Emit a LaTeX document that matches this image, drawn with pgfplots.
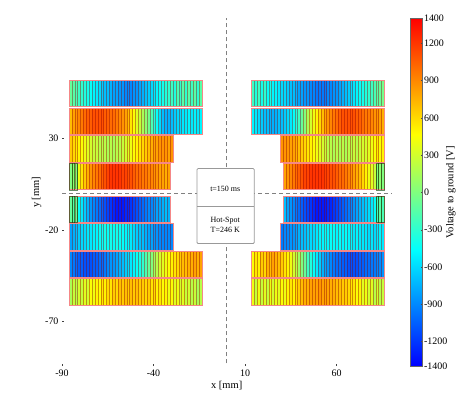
\documentclass[border=0pt]{standalone}
\usepackage{pgfplots}
\pgfplotsset{compat=1.18}
\usepackage{pgfplotstable}
\usepackage{fontspec}
\setmainfont{Liberation Serif}
\definecolor{edgec}{RGB}{245,135,135}
\pgfplotsset{
  /pgf/number format/.cd, 1000 sep={}, assume math mode=true,
  /pgfplots/.cd,
  strip/.style={quiver={u=0,v=14.5,colored=mapped color}, line width=2.9bp, point meta=explicit},
  sepl/.style={quiver={u=0,v=14.5}, draw=red!55!black, draw opacity=0.42, line width=0.45bp},
  rowedge/.style={draw=edgec, line width=0.9bp},
  grpedge/.style={draw=green!25!black, draw opacity=0.6, line width=0.5bp},
}
\newcommand{\stripes}[3]{%
  \addplot[strip] table[x index=0, y index=0, x expr={#2+0.79+1.58*\coordindex}, y expr={#3}, meta index=0] {#1};
  \addplot[sepl] table[x index=0, y index=0, x expr={#2+1.58*\coordindex}, y expr={#3}] {#1};
}
\newcommand{\roww}[4]{\addplot[rowedge] coordinates {(#1,#3)(#2,#3)(#2,#4)(#1,#4)} -- cycle;}
% left rows (outer -> inner), top to bottom
\pgfplotstableread[row sep=\\]{c\\-100\\-150\\-200\\-250\\-300\\-350\\-400\\-450\\-500\\-550\\-600\\-650\\-700\\-700\\-750\\-800\\-800\\-850\\-850\\-900\\-900\\-900\\-850\\-850\\-800\\-750\\-700\\-650\\-600\\-550\\-500\\-450\\-400\\-350\\-300\\-250\\-350\\-200\\-300\\-150\\-300\\-150\\-250\\-150\\-300\\-150\\}\dLa
\pgfplotstableread[row sep=\\]{c\\700\\800\\850\\900\\950\\1000\\1050\\1050\\1100\\1100\\1100\\1100\\1050\\1050\\1000\\1000\\950\\900\\850\\800\\700\\550\\450\\350\\250\\150\\50\\-50\\-200\\-350\\-450\\-600\\-700\\-750\\-750\\-700\\-650\\-600\\-600\\-550\\-550\\-500\\-550\\-500\\-550\\-500\\}\dLb
\pgfplotstableread[row sep=\\]{c\\650\\600\\550\\500\\450\\400\\350\\300\\250\\250\\200\\200\\200\\150\\200\\150\\200\\200\\250\\300\\350\\400\\450\\500\\550\\600\\650\\700\\750\\800\\800\\850\\850\\850\\800\\850\\}\dLc
\pgfplotstableread[row sep=\\]{c\\0\\50\\0\\400\\550\\650\\750\\850\\900\\950\\1000\\1050\\1100\\1150\\1200\\1200\\1200\\1200\\1150\\1150\\1100\\1100\\1050\\1000\\1000\\950\\950\\900\\900\\850\\850\\800\\800\\750\\800\\}\dLd
\pgfplotstableread[row sep=\\]{c\\-100\\-150\\-100\\-450\\-550\\-650\\-750\\-850\\-900\\-950\\-1000\\-1050\\-1100\\-1150\\-1200\\-1250\\-1300\\-1300\\-1300\\-1250\\-1250\\-1200\\-1150\\-1100\\-1050\\-1000\\-950\\-900\\-900\\-850\\-800\\-800\\-750\\-700\\-750\\}\dLe
\pgfplotstableread[row sep=\\]{c\\-800\\-750\\-700\\-650\\-600\\-600\\-550\\-550\\-500\\-500\\-450\\-450\\-400\\-450\\-400\\-450\\-400\\-450\\-450\\-500\\-500\\-550\\-600\\-650\\-700\\-700\\-750\\-800\\-800\\-850\\-850\\-900\\-900\\-900\\-900\\-900\\}\dLf
\pgfplotstableread[row sep=\\]{c\\-900\\-950\\-1000\\-1050\\-1050\\-1100\\-1100\\-1100\\-1050\\-1050\\-1000\\-1000\\-950\\-900\\-850\\-850\\-800\\-750\\-700\\-650\\-600\\-550\\-500\\-450\\-400\\-300\\-200\\-100\\0\\100\\200\\300\\350\\400\\450\\500\\550\\600\\650\\700\\700\\750\\750\\800\\750\\800\\}\dLg
\pgfplotstableread[row sep=\\]{c\\150\\250\\200\\300\\250\\350\\300\\450\\400\\500\\450\\550\\500\\600\\550\\650\\600\\700\\650\\700\\650\\700\\650\\700\\650\\650\\600\\650\\550\\600\\500\\550\\450\\500\\400\\450\\350\\400\\300\\350\\250\\300\\200\\250\\150\\200\\}\dLh
% right rows (inner -> outer), top to bottom
\pgfplotstableread[row sep=\\]{c\\-250\\-350\\-250\\-400\\-300\\-450\\-400\\-500\\-500\\-550\\-600\\-600\\-650\\-700\\-700\\-750\\-800\\-800\\-850\\-850\\-900\\-900\\-950\\-950\\-950\\-950\\-900\\-900\\-850\\-850\\-800\\-750\\-700\\-650\\-600\\-550\\-500\\-450\\-400\\-350\\-300\\-250\\-200\\-150\\-100\\-50\\}\dRa
\pgfplotstableread[row sep=\\]{c\\-500\\-550\\-600\\-650\\-700\\-700\\-750\\-750\\-750\\-700\\-700\\-650\\-600\\-550\\-450\\-350\\-250\\-100\\0\\150\\300\\400\\500\\600\\700\\800\\850\\900\\950\\1000\\1050\\1100\\1100\\1100\\1100\\1100\\1050\\1050\\1000\\950\\950\\900\\850\\850\\800\\750\\}\dRb
\pgfplotstableread[row sep=\\]{c\\850\\850\\850\\800\\800\\750\\700\\650\\600\\550\\500\\450\\400\\350\\300\\250\\200\\200\\150\\200\\150\\200\\150\\200\\200\\250\\200\\250\\300\\300\\350\\400\\450\\550\\450\\500\\}\dRc
\pgfplotstableread[row sep=\\]{c\\800\\850\\900\\950\\1000\\1050\\1100\\1150\\1150\\1200\\1200\\1200\\1200\\1200\\1150\\1150\\1100\\1100\\1050\\1000\\1000\\950\\900\\850\\800\\750\\700\\600\\500\\400\\350\\250\\0\\50\\0\\}\dRd
\pgfplotstableread[row sep=\\]{c\\-700\\-800\\-850\\-900\\-950\\-1000\\-1050\\-1100\\-1150\\-1200\\-1250\\-1300\\-1300\\-1300\\-1300\\-1250\\-1250\\-1200\\-1150\\-1100\\-1050\\-1000\\-950\\-900\\-850\\-800\\-750\\-700\\-650\\-600\\-550\\-450\\-250\\-150\\-200\\}\dRe
\pgfplotstableread[row sep=\\]{c\\-950\\-900\\-900\\-850\\-850\\-800\\-750\\-700\\-700\\-650\\-600\\-600\\-550\\-500\\-500\\-450\\-500\\-450\\-450\\-500\\-450\\-500\\-450\\-500\\-500\\-550\\-500\\-550\\-550\\-550\\-600\\-550\\-600\\-550\\-500\\-550\\}\dRf
\pgfplotstableread[row sep=\\]{c\\450\\550\\500\\650\\600\\750\\700\\800\\750\\700\\650\\550\\500\\400\\300\\200\\100\\0\\-100\\-250\\-350\\-450\\-550\\-650\\-750\\-800\\-850\\-900\\-950\\-1000\\-1000\\-1050\\-1050\\-1100\\-1100\\-1100\\-1100\\-1050\\-1050\\-1000\\-1000\\-950\\-950\\-900\\-900\\-850\\}\dRg
\pgfplotstableread[row sep=\\]{c\\400\\250\\400\\250\\350\\250\\400\\300\\400\\350\\450\\400\\500\\550\\500\\600\\650\\700\\750\\750\\800\\800\\800\\850\\800\\800\\800\\750\\750\\700\\700\\650\\650\\600\\550\\550\\450\\500\\350\\400\\300\\350\\200\\300\\200\\250\\}\dRh
\begin{document}
\begin{tikzpicture}
\begin{axis}[
  name=ax, at={(0,0)}, anchor=south west,
  scale only axis, width=329.4bp, height=347.7bp,
  xmin=-90, xmax=90, ymin=-94.5, ymax=95.5,
  axis line style={draw=none},
  xtick={-90,-40,10,60}, ytick={-70,-20,30},
  xtick pos=left, ytick pos=left, tick align=inside,
  major tick length=2.5bp, tick style={black!75, line width=0.5bp},
  ticklabel style={font=\fontsize{10}{12}\selectfont},
  xlabel={x [mm]}, ylabel={y [mm]}, ylabel shift=-3bp, xlabel shift=-2bp,
  label style={font=\fontsize{10.5}{12}\selectfont},
  colormap={vj}{rgb255=(0,0,255) rgb255=(0,255,255) rgb255=(255,255,0) rgb255=(255,0,0)},
  point meta min=-1400, point meta max=1400,
  colorbar,
  colorbar style={
    at={(parent axis.north east)}, anchor=north west, xshift=10.6bp,
    width=12bp,
    ytick={-1400,-1200,-900,-600,-300,0,300,600,900,1200,1400},
    yticklabel style={font=\fontsize{10}{12}\selectfont, xshift=-2bp},
    ylabel={Voltage to ground [V]}, ylabel shift=-8bp,
    ylabel style={font=\fontsize{10.5}{12}\selectfont},
    axis line style={black!60, line width=0.4bp},
    tick align=inside, major tick length=2bp, ytick pos=right,
    tick style={black!70},
  },
  clip=false,
]
\addplot[black!50, dash pattern=on 4bp off 3bp, line width=0.6bp] coordinates {(0,-93) (0,95.5)};
\addplot[black!50, dash pattern=on 4bp off 3bp, line width=0.6bp] coordinates {(-90,0) (90,0)};
% left
\stripes{\dLa}{-86.2}{47.2} \roww{-86.2}{-13.52}{47.2}{61.7}
\stripes{\dLb}{-86.2}{32.1} \roww{-86.2}{-13.52}{32.1}{46.6}
\stripes{\dLc}{-86.2}{17.0} \roww{-86.2}{-29.32}{17.0}{31.5}
\stripes{\dLd}{-86.2}{1.9} \roww{-86.2}{-30.9}{1.9}{16.4}
\stripes{\dLe}{-86.2}{-16.1} \roww{-86.2}{-30.9}{-16.1}{-1.6}
\stripes{\dLf}{-86.2}{-31.2} \roww{-86.2}{-29.32}{-31.2}{-16.7}
\stripes{\dLg}{-86.2}{-46.2} \roww{-86.2}{-13.52}{-46.2}{-31.7}
\stripes{\dLh}{-86.2}{-61.2} \roww{-86.2}{-13.52}{-61.2}{-46.7}
% right
\stripes{\dRa}{13.52}{47.2} \roww{13.52}{86.2}{47.2}{61.7}
\stripes{\dRb}{13.52}{32.1} \roww{13.52}{86.2}{32.1}{46.6}
\stripes{\dRc}{29.32}{17.0} \roww{29.32}{86.2}{17.0}{31.5}
\stripes{\dRd}{30.9}{1.9} \roww{30.9}{86.2}{1.9}{16.4}
\stripes{\dRe}{30.9}{-16.1} \roww{30.9}{86.2}{-16.1}{-1.6}
\stripes{\dRf}{29.32}{-31.2} \roww{29.32}{86.2}{-31.2}{-16.7}
\stripes{\dRg}{13.52}{-46.2} \roww{13.52}{86.2}{-46.2}{-31.7}
\stripes{\dRh}{13.52}{-61.2} \roww{13.52}{86.2}{-61.2}{-46.7}
% green groups
\addplot[grpedge] coordinates {(-86.2,1.9)(-81.46,1.9)(-81.46,16.4)(-86.2,16.4)} -- cycle;
\addplot[grpedge] coordinates {(-86.2,-16.1)(-81.46,-16.1)(-81.46,-1.6)(-86.2,-1.6)} -- cycle;
\addplot[grpedge] coordinates {(81.46,1.9)(86.2,1.9)(86.2,16.4)(81.46,16.4)} -- cycle;
\addplot[grpedge] coordinates {(81.46,-16.1)(86.2,-16.1)(86.2,-1.6)(81.46,-1.6)} -- cycle;
\addplot[grpedge, quiver={u=0,v=14.5}] coordinates {(-84.62,1.9)(-83.04,1.9)(-84.62,-16.1)(-83.04,-16.1)(83.04,1.9)(84.62,1.9)(83.04,-16.1)(84.62,-16.1)};
% central box
\addplot[draw=black!40, fill=white, line width=0.8bp, rounded corners=1bp] coordinates {(-16.2,-27.5)(15.0,-27.5)(15.0,13.5)(-16.2,13.5)} -- cycle;
\addplot[draw=black!40, line width=0.8bp] coordinates {(-16.2,-7.1)(15.0,-7.1)};
\node[font=\fontsize{8}{9.5}\selectfont] at (axis cs:-0.8,2.6) {t=150 ms};
\node[font=\fontsize{8}{9.5}\selectfont, align=center] at (axis cs:-0.8,-17.3) {Hot-Spot\\T=246 K};
\end{axis}
\pgfresetboundingbox
\path (-62bp,-33bp) rectangle (407bp,366.2bp);
\end{tikzpicture}
\end{document}
